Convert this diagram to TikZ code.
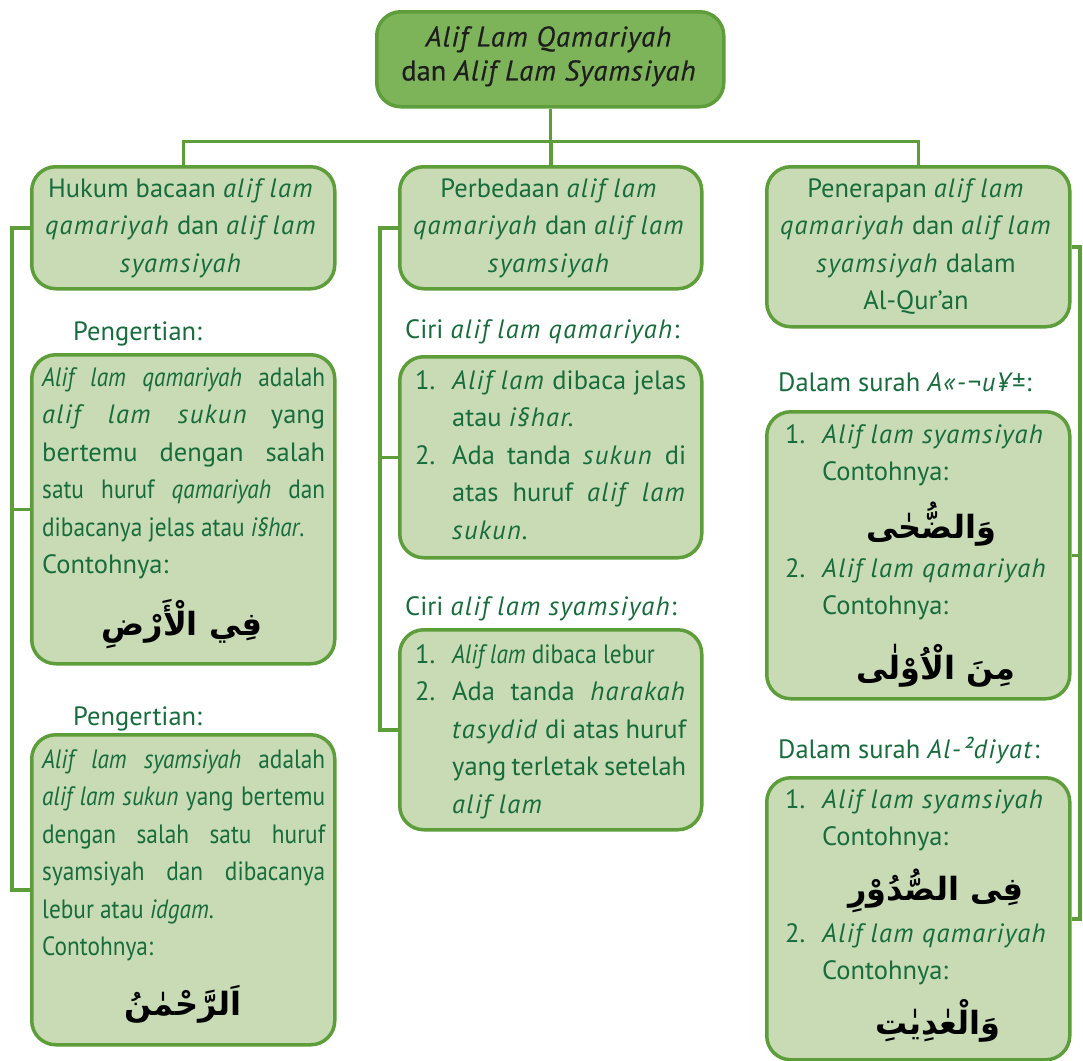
\documentclass[tikz,border=0pt]{standalone}
\usepackage{fontspec}
\setmainfont{PT Sans}[ItalicFeatures={LetterSpace=5}]
\newfontfamily\arabicfont[Script=Arabic]{DejaVu Sans}
\newfontfamily\narrowfont[FakeStretch=0.88]{PT Sans}
\newfontfamily\titlefont[FakeBold=0.5, ItalicFeatures={LetterSpace=4}]{PT Sans}
\TeXXeTstate=1
\hyphenpenalty=10000
\exhyphenpenalty=10000
\definecolor{edge}{HTML}{5E9E3A}
\definecolor{boxfill}{HTML}{C8DBB5}
\definecolor{titlefill}{HTML}{7DB45A}
\definecolor{ink}{HTML}{176C3C}
\definecolor{titleink}{HTML}{1E1E1E}
\tikzset{
  box/.style={draw=edge, line width=3.5pt, fill=boxfill, rounded corners=24pt,
    anchor=north west, inner sep=0pt},
  conn/.style={draw=edge, line width=3.5pt},
  body/.style={font=\fontsize{26.5}{37.5}\selectfont, text=ink, inner sep=0pt},
  arab/.style={font=\arabicfont\bfseries\fontsize{32}{36}\selectfont, text=black, inner sep=0pt},
}
\newcommand{\itemno}[1]{\noindent\hangindent=37pt\hangafter=1\makebox[37pt][l]{#1}}
\begin{document}
\begin{tikzpicture}[x=1pt,y=-1pt]
\useasboundingbox (0,0) rectangle (1083,1060);

% title
\node[box, fill=titlefill, minimum width=347pt, minimum height=95pt] (title) at (375,10) {};
\node[body, text=titleink, align=center, anchor=north, font=\titlefont\fontsize{28.5}{34}\selectfont]
  (titletext) at (549,26) {\textit{Alif Lam Qamariyah}\\dan \textit{Alif Lam Syamsiyah}};

% three main topics
\node[box, minimum width=303pt, minimum height=122pt] (b1) at (30,165) {};
\node[box, minimum width=302pt, minimum height=122pt] (b2) at (398,165) {};
\node[box, minimum width=303pt, minimum height=160pt] (b3) at (765,165) {};
\node[body, align=center, anchor=north] (b1t) at (181,178)
  {Hukum bacaan \textit{alif lam}\\\textit{qamariyah} dan \textit{alif lam}\\\textit{syamsiyah}};
\node[body, align=center, anchor=north] (b2t) at (549,178)
  {Perbedaan \textit{alif lam}\\\textit{qamariyah} dan \textit{alif lam}\\\textit{syamsiyah}};
\node[body, align=center, anchor=north] (b3t) at (916,178)
  {Penerapan \textit{alif lam}\\\textit{qamariyah} dan \textit{alif lam}\\\textit{syamsiyah} dalam\\Al-Qur'an};

% tree connectors
\path (title.south) ++(0,33) coordinate (hub);
\draw[conn] (title.south) -- (hub);
\draw[conn] (b1.north) -- (b1.north |- hub) -- (b3.north |- hub) -- (b3.north);
\draw[conn] (b2.north |- hub) -- (b2.north);

% left column
\node[body, anchor=base west] (lab1) at (73,340) {Pengertian:};
\node[box, minimum width=303pt, minimum height=309pt] (l1) at (30,353) {};
\node[body, anchor=north west, text width=283pt, align=justify] (l1t) at (42,367)
  {{\narrowfont\textit{Alif lam qamariyah} adalah}\linebreak
   \textit{alif lam sukun} yang\linebreak
   bertemu dengan salah\linebreak
   {\narrowfont satu huruf \textit{qamariyah} dan}\linebreak
   {\narrowfont dibacanya jelas atau \textit{i§har}.}\par
   \noindent Contohnya:\par};
\node[arab] (l1a) at (182,624) {\beginR فِي الْأَرْضِ\endR};

\node[body, anchor=base west] (lab2) at (73,725) {Pengertian:};
\node[box, minimum width=303pt, minimum height=310pt] (l2) at (30,733) {};
\node[body, anchor=north west, text width=283pt, align=justify, font=\narrowfont\fontsize{26.5}{37.5}\selectfont] (l2t) at (42,749)
  {\textit{Alif lam syamsiyah} adalah\linebreak
   \textit{alif lam sukun} yang bertemu\linebreak
   dengan salah satu huruf\linebreak
   syamsiyah dan dibacanya\linebreak
   lebur atau \textit{idgam}.\par
   \noindent Contohnya:\par};
\node[arab] (l2a) at (183,1004) {\beginR اَلرَّحْمٰنُ\endR};

\coordinate (lx) at (12,0);
\draw[conn] (b1.west) -- (b1.west -| lx) -- (l2.west -| lx) -- (l2.west);
\draw[conn] (l1.west -| lx) -- (l1.west);

% middle column
\node[body, anchor=base west] (lab3) at (405,338) {Ciri \textit{alif lam qamariyah}:};
\node[box, minimum width=302pt, minimum height=201pt] (m1) at (398,355) {};
\node[body, anchor=north west, text width=271pt, align=justify] (m1t) at (415,370)
  {\itemno{1.}\textit{Alif lam} dibaca jelas\linebreak atau \textit{i§har.}\par
   \itemno{2.}Ada tanda \textit{sukun} di\linebreak atas huruf \textit{alif lam}\linebreak \textit{sukun.}\par};

\node[body, anchor=base west] (lab4) at (405,615) {Ciri \textit{alif lam syamsiyah}:};
\node[box, minimum width=302pt, minimum height=200pt] (m2) at (398,628) {};
\node[body, anchor=north west, text width=271pt, align=justify] (m2t) at (415,644)
  {\itemno{1.}{\narrowfont\textit{Alif lam} dibaca lebur}\par
   \itemno{2.}Ada tanda \textit{harakah}\linebreak \textit{tasydid} di atas huruf\linebreak yang terletak setelah\linebreak \textit{alif lam}\par};

\coordinate (mx) at (380,0);
\draw[conn] (b2.west) -- (b2.west -| mx) -- (m2.west -| mx) -- (m2.west);
\draw[conn] (m1.west -| mx) -- (m1.west);

% right column
\node[body, anchor=base west] (lab5) at (778,391) {Dalam surah \textit{A«-¬u¥±}:};
\node[box, minimum width=303pt, minimum height=287pt] (r1) at (765,410) {};
\node[body, anchor=north west, align=left] (r1i) at (785,424)
  {\makebox[37pt][l]{1.}\textit{Alif lam syamsiyah}\\\hspace*{37pt}Contohnya:};
\node[arab] (r1a) at (931,524) {\beginR وَالضُّحٰى\endR};
\node[body, anchor=north west, align=left] (r1j) at (785,558)
  {\makebox[37pt][l]{2.}\textit{Alif lam qamariyah}\\\hspace*{37pt}Contohnya:};
\node[arab] (r1b) at (936,666) {\beginR مِنَ الْاُوْلٰى\endR};

\node[body, anchor=base west] (lab6) at (778,758) {Dalam surah \textit{Al-²diyat}:};
\node[box, minimum width=303pt, minimum height=282pt] (r2) at (765,776) {};
\node[body, anchor=north west, align=left] (r2i) at (785,789)
  {\makebox[37pt][l]{1.}\textit{Alif lam syamsiyah}\\\hspace*{37pt}Contohnya:};
\node[arab] (r2a) at (936,891) {\beginR فِى الصُّدُوْرِ\endR};
\node[body, anchor=north west, align=left] (r2j) at (785,923)
  {\makebox[37pt][l]{2.}\textit{Alif lam qamariyah}\\\hspace*{37pt}Contohnya:};
\node[arab] (r2b) at (938,1021) {\beginR وَالْعٰدِيٰتِ\endR};

\coordinate (rx) at (1080,0);
\draw[conn] (b3.east) -- (b3.east -| rx) -- (r2.east -| rx) -- (r2.east);
\draw[conn] (r1.east -| rx) -- (r1.east);
\end{tikzpicture}
\end{document}
